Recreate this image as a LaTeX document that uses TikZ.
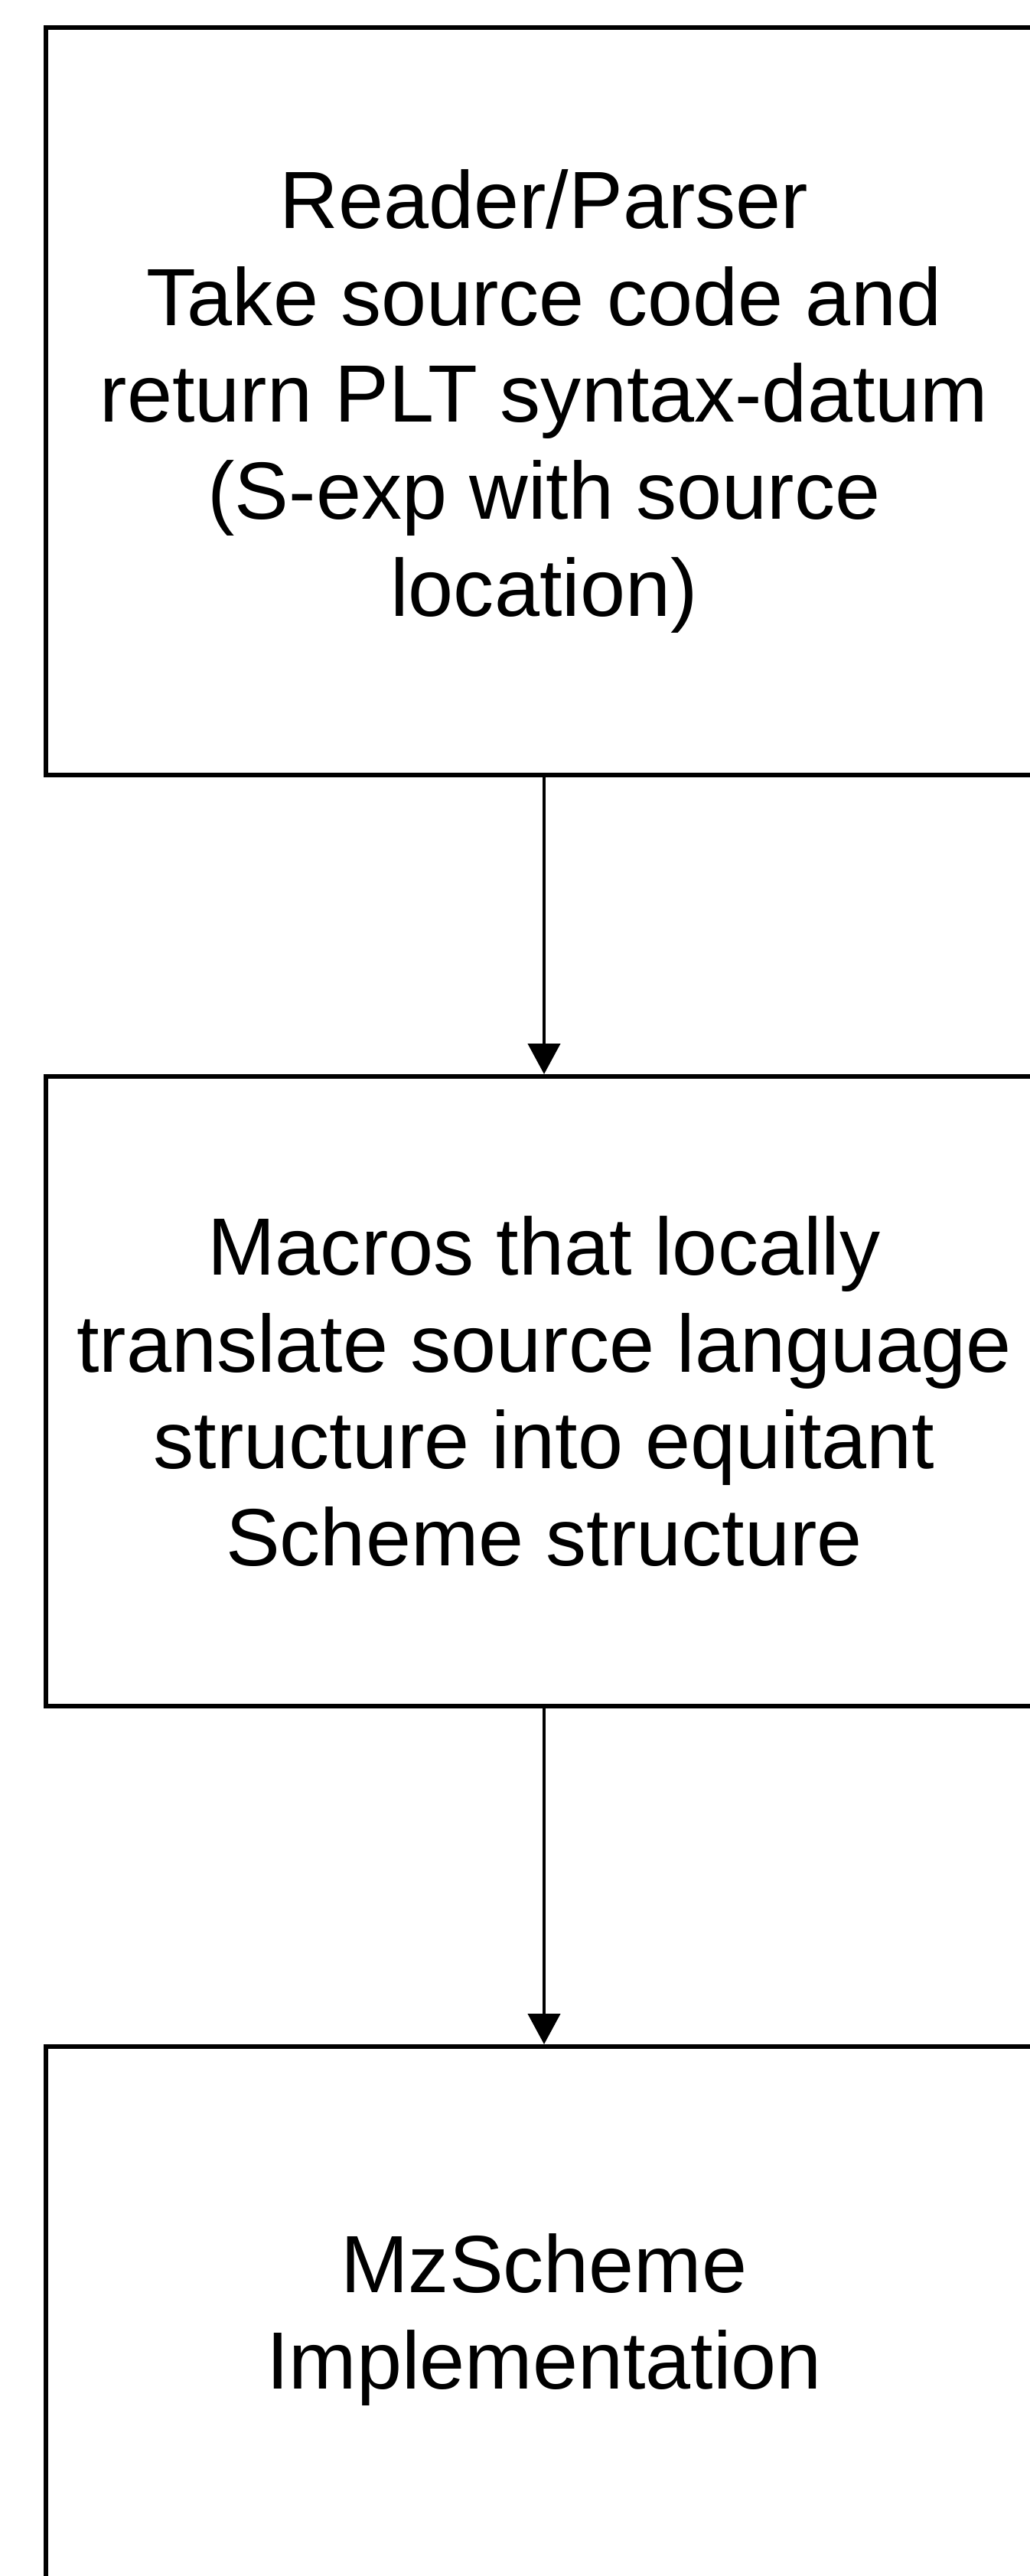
\documentclass[tikz,border=0pt]{standalone}
\usepackage{fontspec}
\setmainfont{Liberation Sans}
\usetikzlibrary{arrows.meta,positioning}

\begin{document}
\begin{tikzpicture}[>={Triangle[length=0.4cm,width=0.42cm]},node distance=3.88cm,
  block/.style={draw,rectangle,line width=0.06cm,minimum width=13.02cm,align=center,
    font=\fontsize{30.2}{36.1}\selectfont}]
  \useasboundingbox (0,0) rectangle (13.46,-33.67);

  \node[block,minimum height=9.77cm] (reader) at (7.11,-5.245) {Reader/Parser\\Take source code and\\return PLT syntax-datum\\(S-exp with source\\location)};
  \node[block,minimum height=8.23cm] (macros) [below=of reader] {Macros that locally\\translate source language\\structure into equitant\\Scheme structure};
  \node[block,minimum height=7.14cm] (mzscheme) [below=4.39cm of macros] {MzScheme\\Implementation};

  \path [->,line width=0.043cm]
        (reader) edge (macros)
        (macros) edge (mzscheme);
\end{tikzpicture}
\end{document}
